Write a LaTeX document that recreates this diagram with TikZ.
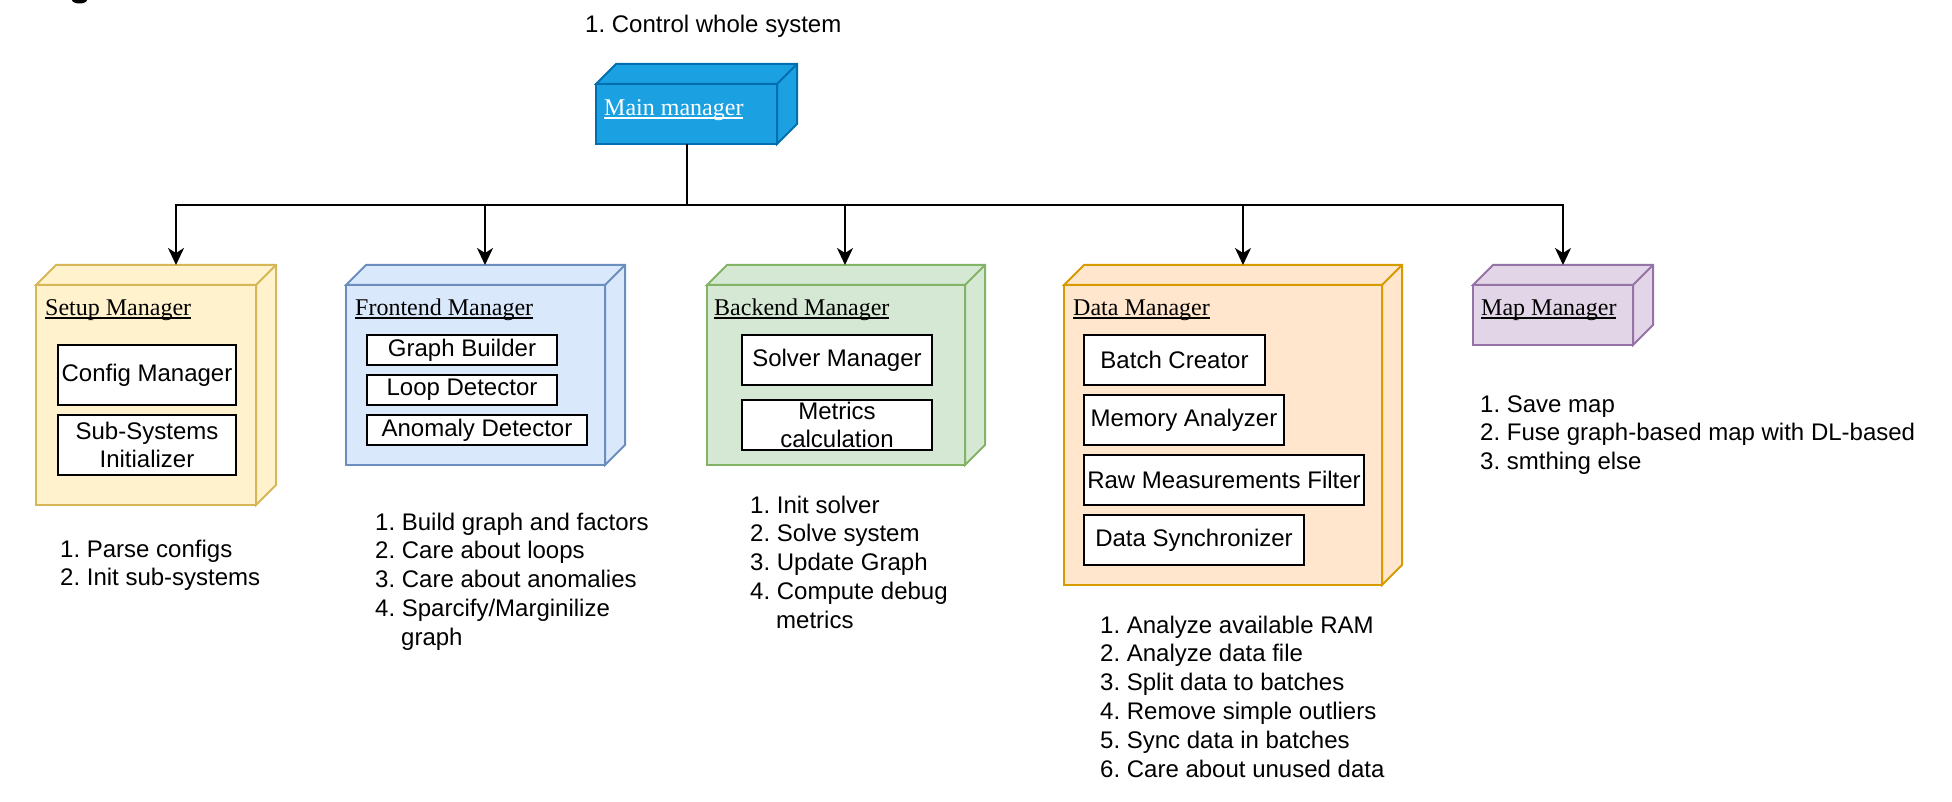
\documentclass[tikz,border=0pt]{standalone}
\usepackage{fontspec}
\setmainfont{Liberation Sans}
\newfontfamily\titlefont{Liberation Serif}
\usetikzlibrary{arrows.meta}
\frenchspacing
\newcommand{\ulinetext}[1]{{\setbox0\hbox{#1}\rlap{\rule[-3pt]{\wd0}{1.6pt}}\box0}}
\definecolor{setupF}{HTML}{FFF2CC}\definecolor{setupS}{HTML}{D6B656}
\definecolor{frontF}{HTML}{DAE8FC}\definecolor{frontS}{HTML}{6C8EBF}
\definecolor{backF}{HTML}{D5E8D4}\definecolor{backS}{HTML}{82B366}
\definecolor{dataF}{HTML}{FFE6CC}\definecolor{dataS}{HTML}{D79B00}
\definecolor{mapF}{HTML}{E1D5E7}\definecolor{mapS}{HTML}{9673A6}
\definecolor{mainF}{HTML}{1BA1E2}\definecolor{mainS}{HTML}{006EAF}
\newcommand{\cubeside}[3]{%
  \filldraw[fill=#2, draw=#3, line width=2pt] (#1.north west) -- ++(20,-20)
    -- ([shift={(20,-20)}]#1.north east) -- ([shift={(20,-20)}]#1.south east)
    -- (#1.south east) -- (#1.north east) -- cycle;
  \draw[draw=#3, line width=2pt] (#1.north east) -- ++(20,-20);}
\begin{document}
\frenchspacing
\begin{tikzpicture}[x=1pt,y=-1pt,
  front/.style={draw, line width=2pt, rectangle, inner sep=0pt, outer sep=0pt, anchor=north west},
  inbox/.style={draw=black, fill=white, line width=2pt, inner sep=0pt, outer sep=0pt, anchor=north west, font=\fontsize{24}{28.8}\selectfont\frenchspacing, align=center},
  ttl/.style={anchor=base west, inner sep=0pt, font=\titlefont\fontsize{24}{28.8}\selectfont},
  lst/.style={anchor=base west, inner sep=0pt, font=\fontsize{24}{28.8}\selectfont\frenchspacing},
  conn/.style={line width=2pt},
  arr/.style={conn, -{Stealth[length=17pt,width=16pt,inset=5pt]}}]
\useasboundingbox (0,0) rectangle (1952,802);
% cut-off glyph at top-left
\fill[black] (79.5,0) ellipse [x radius=7.5, y radius=3.5];

% main manager
\node[front, fill=mainF, draw=mainS, minimum width=181pt, minimum height=60pt] (main) at (596,84) {};
\cubeside{main}{mainF}{mainS}
\node[ttl, text=white] (mainT) at (604,116) {\ulinetext{Main manager}};
\node[lst] (mainL) at (585,33) {1. Control whole system};

% setup
\node[front, fill=setupF, draw=setupS, minimum width=220pt, minimum height=220pt] (setup) at (36,285) {};
\cubeside{setup}{setupF}{setupS}
\node[ttl] (setupT) at (45,316) {\ulinetext{Setup Manager}};
\node[inbox, minimum width=178pt, minimum height=60pt] (cfg) at (58,345) {Config Manager};
\node[inbox, minimum width=178pt, minimum height=60pt] (subs) at (58,415) {Sub-Systems\\Initializer};
\node[lst] (setupL1) at (60,557) {1. Parse configs};
\node[lst] (setupL2) at (60,585.8) {2. Init sub-systems};

% frontend
\node[front, fill=frontF, draw=frontS, minimum width=259pt, minimum height=180pt] (frontend) at (346,285) {};
\cubeside{frontend}{frontF}{frontS}
\node[ttl] (frontT) at (355,316) {\ulinetext{Frontend Manager}};
\node[inbox, minimum width=190pt, minimum height=30pt] (gb) at (367,335) {Graph Builder};
\node[inbox, minimum width=190pt, minimum height=30pt] (ld) at (367,375) {Loop Detector};
\node[inbox, minimum width=220pt, minimum height=30pt] (ad) at (367,415) {Anomaly Detector};
\node[lst] (frontL1) at (375,530) {1. Build graph and factors};
\node[lst] (frontL2) at (375,558.8) {2. Care about loops};
\node[lst] (frontL3) at (375,587.6) {3. Care about anomalies};
\node[lst] (frontL4) at (375,616.4) {4. Sparcify/Marginilize};
\node[lst] (frontL5) at (401,645.2) {graph};

% backend
\node[front, fill=backF, draw=backS, minimum width=258pt, minimum height=180pt] (backend) at (707,285) {};
\cubeside{backend}{backF}{backS}
\node[ttl] (backT) at (714,316) {\ulinetext{Backend Manager}};
\node[inbox, minimum width=190pt, minimum height=50pt] (sm) at (742,335) {Solver Manager};
\node[inbox, minimum width=190pt, minimum height=50pt] (mc) at (742,400) {Metrics\\calculation};
\node[lst] (backL1) at (750,513) {1. Init solver};
\node[lst] (backL2) at (750,541.8) {2. Solve system};
\node[lst] (backL3) at (750,570.6) {3. Update Graph};
\node[lst] (backL4) at (750,599.4) {4. Compute debug};
\node[lst] (backL5) at (776,628.2) {metrics};

% data
\node[front, fill=dataF, draw=dataS, minimum width=318pt, minimum height=300pt] (data) at (1064,285) {};
\cubeside{data}{dataF}{dataS}
\node[ttl] (dataT) at (1073,316) {\ulinetext{Data Manager}};
\node[inbox, minimum width=181pt, minimum height=50pt] (bc) at (1084,335) {Batch Creator};
\node[inbox, minimum width=200pt, minimum height=50pt] (ma) at (1084,395) {Memory Analyzer};
\node[inbox, minimum width=280pt, minimum height=50pt] (rmf) at (1084,455) {Raw Measurements Filter};
\node[inbox, minimum width=220pt, minimum height=50pt] (ds) at (1084,515) {Data Synchronizer};
\node[lst] (dataL1) at (1100,633) {1. Analyze available RAM};
\node[lst] (dataL2) at (1100,661.8) {2. Analyze data file};
\node[lst] (dataL3) at (1100,690.6) {3. Split data to batches};
\node[lst] (dataL4) at (1100,719.4) {4. Remove simple outliers};
\node[lst] (dataL5) at (1100,748.2) {5. Sync data in batches};
\node[lst] (dataL6) at (1100,777) {6. Care about unused data};

% map
\node[front, fill=mapF, draw=mapS, minimum width=160pt, minimum height=60pt] (map) at (1473,285) {};
\cubeside{map}{mapF}{mapS}
\node[ttl] (mapT) at (1481,316) {\ulinetext{Map Manager}};
\node[lst] (mapL1) at (1480,412) {1. Save map};
\node[lst] (mapL2) at (1480,440.8) {2. Fuse graph-based map with DL-based};
\node[lst] (mapL3) at (1480,469.6) {3. smthing else};

% connectors
\coordinate (jn) at (686,205);
\coordinate (t1) at (176,265);
\coordinate (t2) at (485,265);
\coordinate (t3) at (845,265);
\coordinate (t4) at (1243,265);
\coordinate (t5) at (1563,265);
\draw[conn] (main.south) -- (main.south |- jn);
\draw[arr] (jn) -| (t1);
\draw[arr] (jn) -| (t2);
\draw[arr] (jn) -| (t3);
\draw[arr] (jn) -| (t4);
\draw[arr] (jn) -| (t5);
\end{tikzpicture}
\end{document}
